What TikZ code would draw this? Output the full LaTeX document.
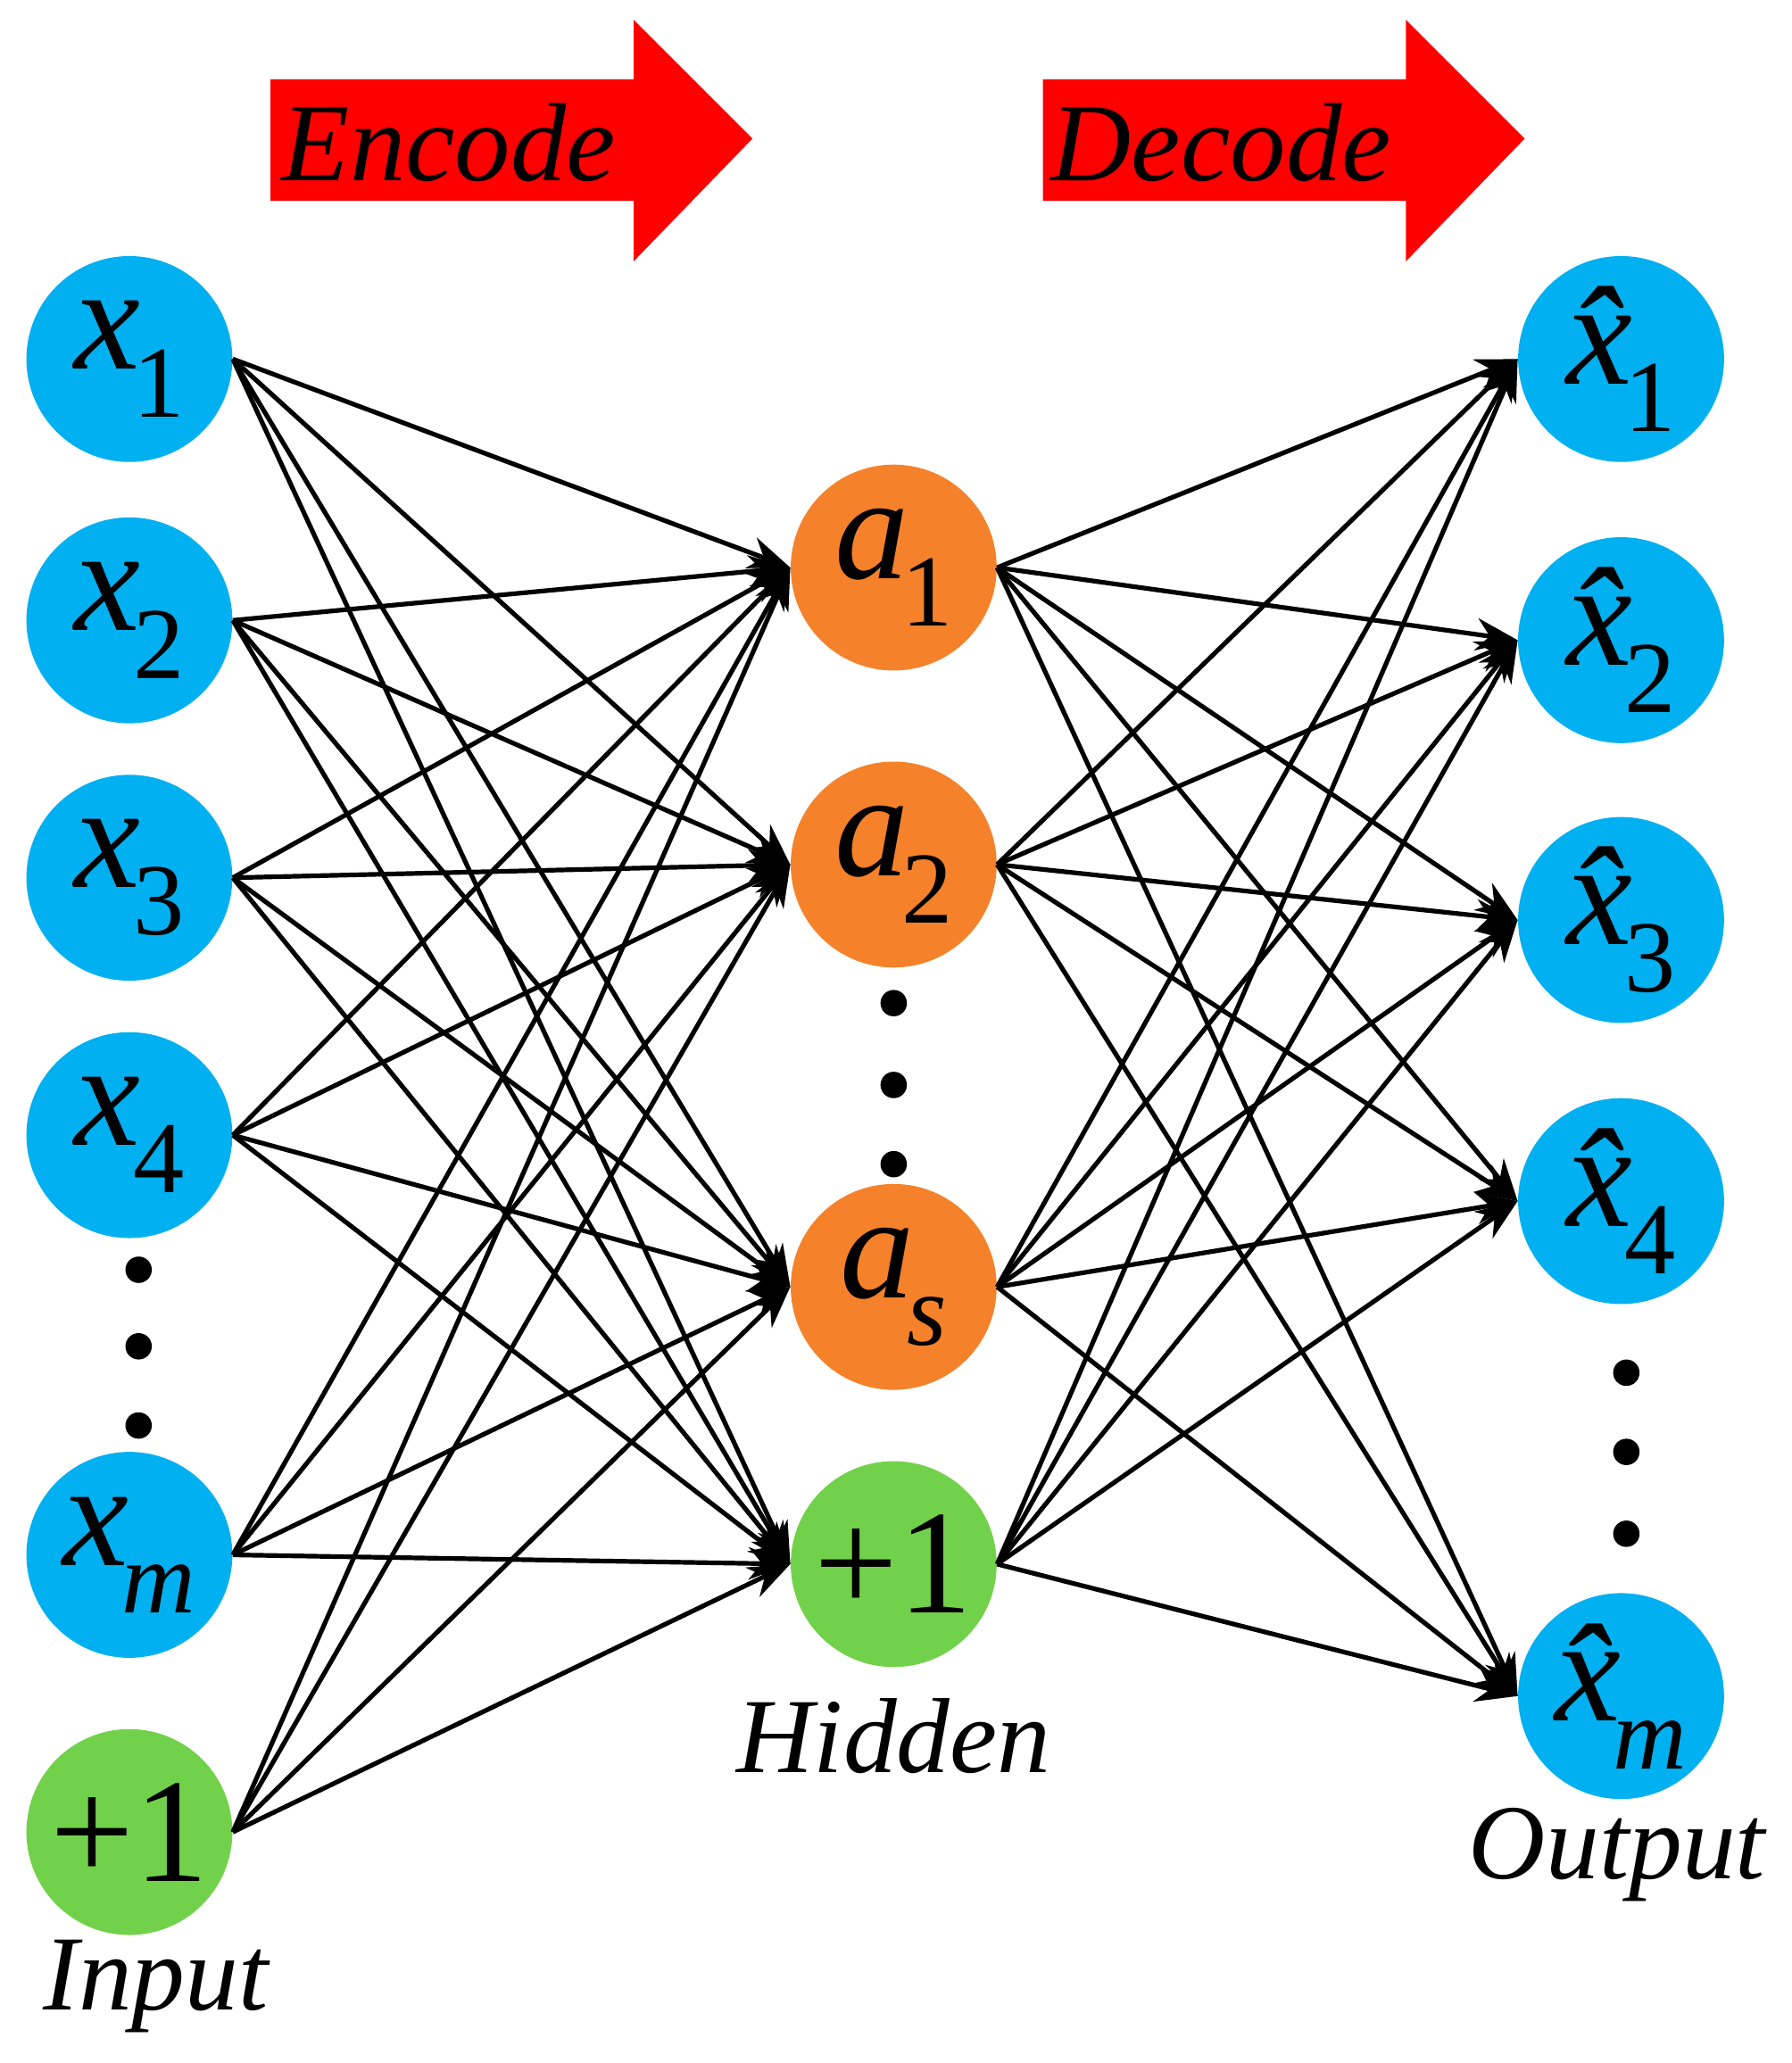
\documentclass[tikz,border=0pt]{standalone}
\usepackage{fontspec}
\setmainfont{Liberation Serif}
\usetikzlibrary{arrows.meta}
\definecolor{cy}{HTML}{00B0F0}
\definecolor{or}{HTML}{F5822A}
\definecolor{gr}{HTML}{72D14A}
\newcommand{\vr}[2]{{\itshape #1}\kern-0.05em\raisebox{-0.32em}{\fontsize{44}{44}\selectfont #2}}
\begin{document}
\begin{tikzpicture}[x=0.02cm,y=-0.02cm,
 neu/.style={circle,minimum size=156*0.02cm,inner sep=0pt,font=\fontsize{64}{64}\selectfont},
 inp/.style={neu,fill=cy},hid/.style={neu,fill=or},bia/.style={neu,fill=gr},
 con/.style={line width=2pt,-{Stealth[length=18pt,width=14pt]}},
 lab/.style={font=\fontsize{46}{46}\selectfont\itshape},
 dot/.style={circle,fill=black,minimum size=20*0.02cm,inner sep=0pt}]
\useasboundingbox (0,0) rectangle (1357,1563);
% arrows
\fill[red] (205,60) -- (480,60) -- (480,15) -- (570,105) -- (480,198) -- (480,152) -- (205,152) -- cycle;
\fill[red] (790,60) -- (1065,60) -- (1065,15) -- (1155,105) -- (1065,198) -- (1065,152) -- (790,152) -- cycle;
\node[font=\fontsize{48}{48}\selectfont\itshape] (enc) at (340,108) {Encode};
\node[font=\fontsize{48}{48}\selectfont\itshape] (dec) at (925,108) {Decode};
% input
\node[inp] (i1) at (98,272) {\vr{x}{1}};
\node[inp] (i2) at (98,470) {\vr{x}{2}};
\node[inp] (i3) at (98,665) {\vr{x}{3}};
\node[inp] (i4) at (98,860) {\vr{x}{4}};
\node[inp] (i5) at (98,1178) {\vr{x}{\itshape m}};
\node[bia] (i6) at (98,1388) {+1};
\node[lab] (il) at (118,1505) {Input};
\foreach \y [count=\k] in {962,1020,1080} \node[dot] (di\k) at (105,\y) {};
% hidden
\node[hid] (h1) at (677,430) {\vr{a}{1}};
\node[hid] (h2) at (677,655) {\vr{a}{2}};
\node[hid] (h3) at (677,975) {\vr{a}{\itshape s}};
\node[bia] (h4) at (677,1185) {+1};
\node[lab] (hl) at (677,1315) {Hidden};
\foreach \y [count=\k] in {760,822,882} \node[dot] (dh\k) at (677,\y) {};
% output
\node[inp] (o1) at (1228,272) {\vr{\^x}{1}};
\node[inp] (o2) at (1228,485) {\vr{\^x}{2}};
\node[inp] (o3) at (1228,697) {\vr{\^x}{3}};
\node[inp] (o4) at (1228,910) {\vr{\^x}{4}};
\node[inp] (o5) at (1228,1285) {\vr{\^x}{\itshape m}};
\node[lab] (ol) at (1225,1405) {Output};
\foreach \y [count=\k] in {1040,1100,1162} \node[dot] (do\k) at (1232,\y) {};
% connections
\foreach \a in {1,...,6} \foreach \b in {1,...,4} \draw[con] (i\a.east) -- (h\b.west);
\foreach \a in {1,...,4} \foreach \b in {1,...,5} \draw[con] (h\a.east) -- (o\b.west);
\end{tikzpicture}
\end{document}
